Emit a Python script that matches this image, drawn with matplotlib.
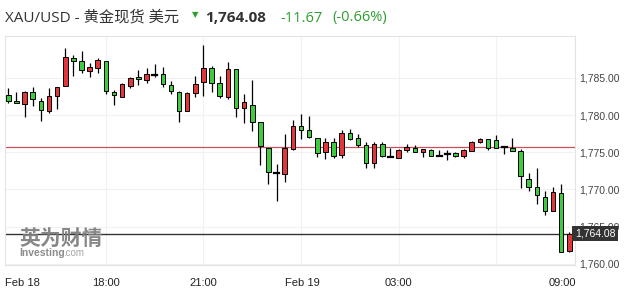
import matplotlib
matplotlib.use("Agg")
import matplotlib.pyplot as plt
from matplotlib.patches import Rectangle
import matplotlib.transforms as mtransforms

# ---- data ----
opens = [1782.66, 1781.85, 1781.54, 1783.15, 1781.85, 1780.55, 1782.52, 1783.87, 1787.63, 1787.23,
         1785.88, 1786.29, 1787.23, 1783.06, 1782.39, 1783.96, 1785.12, 1784.76, 1785.43, 1785.48,
         1784.00, 1783.06, 1780.51, 1782.93, 1784.40, 1786.29, 1784.27, 1782.48, 1786.15, 1780.91,
         1781.36, 1779.03, 1775.53, 1772.26, 1772.04, 1775.49, 1778.53, 1777.95, 1776.88, 1774.99,
         1776.43, 1774.59, 1777.55, 1776.88, 1775.94, 1773.61, 1776.16, 1774.37, 1774.28, 1775.35,
         1775.62, 1774.99, 1775.26, 1774.55, 1774.82, 1774.91, 1774.55, 1775.22, 1776.43, 1776.74,
         1776.61, 1775.67, 1775.62, 1775.13, 1771.37, 1770.38, 1769.04, 1767.11, 1769.49, 1761.73]
highs = [1783.60, 1783.06, 1783.24, 1783.82, 1782.25, 1783.60, 1783.82, 1788.97, 1788.08, 1788.62,
         1786.96, 1787.63, 1787.23, 1783.37, 1784.27, 1785.17, 1786.06, 1786.29, 1786.82, 1786.42,
         1784.54, 1783.24, 1783.06, 1785.30, 1789.42, 1786.55, 1785.21, 1787.09, 1786.15, 1782.79,
         1784.72, 1779.03, 1775.53, 1773.38, 1777.46, 1779.30, 1780.10, 1779.88, 1776.88, 1776.88,
         1776.88, 1778.00, 1778.09, 1777.42, 1776.34, 1776.34, 1776.43, 1775.62, 1775.44, 1776.12,
         1775.98, 1775.40, 1775.40, 1775.31, 1775.26, 1775.09, 1775.44, 1776.52, 1776.88, 1776.74,
         1777.33, 1775.67, 1776.88, 1775.44, 1772.22, 1772.85, 1769.80, 1770.38, 1770.74, 1764.33]
lows = [1781.67, 1781.58, 1779.79, 1781.27, 1779.25, 1780.33, 1780.82, 1783.87, 1785.30, 1785.70,
        1785.12, 1785.70, 1782.79, 1781.36, 1782.39, 1783.69, 1784.05, 1784.36, 1785.12, 1783.82,
        1782.88, 1779.12, 1780.51, 1782.48, 1782.57, 1783.06, 1782.25, 1782.12, 1779.79, 1778.98,
        1777.91, 1773.29, 1770.78, 1768.50, 1771.05, 1775.35, 1776.83, 1776.88, 1774.41, 1774.10,
        1774.28, 1774.28, 1776.70, 1775.76, 1772.93, 1772.93, 1774.37, 1774.37, 1774.19, 1774.99,
        1774.99, 1774.41, 1774.46, 1774.46, 1774.01, 1774.37, 1774.28, 1775.22, 1776.25, 1775.31,
        1775.62, 1774.73, 1775.13, 1770.25, 1769.84, 1768.01, 1766.57, 1767.11, 1761.55, 1761.64]
closes = [1781.94, 1781.58, 1783.15, 1782.12, 1780.64, 1782.52, 1783.73, 1787.76, 1787.23, 1786.02,
          1786.42, 1787.36, 1783.24, 1782.66, 1784.14, 1785.03, 1784.81, 1785.48, 1785.43, 1784.14,
          1783.19, 1780.60, 1782.93, 1784.14, 1786.29, 1784.27, 1782.52, 1786.15, 1780.91, 1781.72,
          1779.03, 1775.80, 1772.31, 1772.26, 1775.53, 1778.53, 1777.95, 1777.01, 1774.86, 1776.43,
          1774.55, 1777.55, 1776.83, 1775.94, 1773.61, 1776.07, 1774.46, 1774.37, 1775.26, 1775.67,
          1775.09, 1775.40, 1774.46, 1774.55, 1774.82, 1774.55, 1775.31, 1776.43, 1776.74, 1775.62,
          1775.62, 1775.67, 1775.13, 1771.77, 1770.38, 1769.26, 1767.11, 1769.62, 1761.64, 1764.08]

prev_close = 1775.75
last_price = 1764.08
change = -11.67
change_pct = -0.66

x_tick_pos = [1.7, 12, 24, 36.2, 48, 68.1]
x_tick_labels = ["Feb 18", "18:00", "21:00", "Feb 19", "03:00", "09:00"]
y_ticks = [1760, 1765, 1770, 1775, 1780, 1785]

UP = "#e0363c"    # red = rise
DOWN = "#3ecb3e"  # green = fall

W, H = 629, 294
fig = plt.figure(figsize=(W / 100, H / 100), dpi=100)
fig.patch.set_facecolor("white")
ax = fig.add_axes([5 / W, (H - 265) / H, 570 / W, 229 / H])
ax.set_facecolor("white")

# grid
for v in y_ticks:
    ax.axhline(v, color="#f1f1f1", lw=0.8, zorder=0)
for p in [12, 24, 36, 48, 60]:
    ax.axvline(p, color="#f1f1f1", lw=0.8, zorder=0)

bw = 0.56
for i, (o, h, l, c) in enumerate(zip(opens, highs, lows, closes)):
    ax.plot([i, i], [l, h], color="black", lw=0.9, zorder=2, solid_capstyle="butt")
    if abs(c - o) < 0.01:
        ax.plot([i - bw / 2, i + bw / 2], [o, o], color="black", lw=1.6, zorder=3)
    else:
        col = UP if c > o else DOWN
        ax.add_patch(Rectangle((i - bw / 2, min(o, c)), bw, abs(c - o),
                               facecolor=col, edgecolor="black", lw=0.7, zorder=3))

ax.axhline(prev_close, color="#c8505a", lw=0.9, zorder=1)
ax.axhline(last_price, color="#333333", lw=1.0, zorder=1)

ax.set_xlim(-0.41, 69.7)
ax.set_ylim(1759.85, 1790.63)

ax.yaxis.tick_right()
ax.set_yticks(y_ticks)
ax.set_yticklabels([f"{v:,.2f}" for v in y_ticks])
ax.set_xticks(x_tick_pos)
ax.set_xticklabels(x_tick_labels)
ax.tick_params(axis="y", length=0, pad=3, labelsize=7.5, labelcolor="#444444")
ax.tick_params(axis="x", length=0, pad=9, labelsize=8, labelcolor="#222222")
for lab in ax.get_xticklabels() + ax.get_yticklabels():
    lab.set_fontfamily("Liberation Sans")
for s in ax.spines.values():
    s.set_color("#e3e3e3")
    s.set_linewidth(0.8)

trans = mtransforms.blended_transform_factory(ax.transAxes, ax.transData)
ax.text(1.0, last_price, f"{last_price:,.2f}", transform=trans, ha="left", va="center",
        color="white", fontsize=7.5, family="Liberation Sans", zorder=10, clip_on=False,
        bbox=dict(facecolor="#333333", edgecolor="none", boxstyle="square,pad=0.25"))

# watermark
fig.text(19 / W, 1 - 238 / H, "英为财情", family=["Noto Sans CJK SC", "DejaVu Sans"],
         fontsize=15, fontweight="heavy", color="#7a7a7a", alpha=0.9, va="center", ha="left")
fig.text(19 / W, 1 - 253 / H, "Investing", family="Liberation Sans", fontsize=7.5,
         fontweight="bold", color="#7f7f7f", alpha=0.9, va="center", ha="left")
fig.text(63 / W, 1 - 253 / H, ".com", family="Liberation Sans", fontsize=7,
         color="#9a9a9a", alpha=0.9, va="center", ha="left")

# title
ty = 1 - 18 / H
fam = ["Open Sans", "Noto Sans CJK SC", "DejaVu Sans"]
fig.text(5 / W, ty, "XAU/USD - 黄金现货 美元", family=fam, fontsize=11, color="#333333",
         va="center", ha="left")
fig.text(195 / W, 1 - 15 / H, "▼", family="DejaVu Sans", fontsize=6, color="#2e9e2e",
         va="center", ha="center")
fig.text(205 / W, ty, f"{last_price:,.2f}", family=fam, fontsize=11, fontweight="bold",
         color="#333333", va="center", ha="left")
fig.text(280 / W, ty, f"{change:.2f}", family=fam, fontsize=10.5, color="#2e9e2e",
         va="center", ha="left")
fig.text(332 / W, ty, f"({change_pct:.2f}%)", family=fam, fontsize=10.5, color="#2e9e2e",
         va="center", ha="left")

fig.savefig("out.png", dpi=100, facecolor="white")
